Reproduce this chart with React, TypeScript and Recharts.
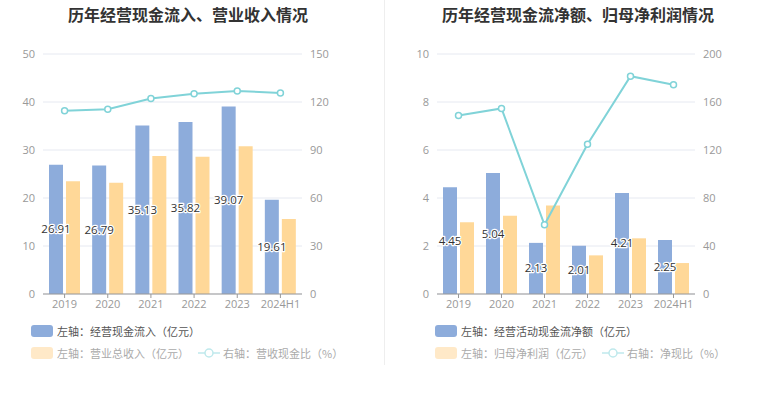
import { Bar, CartesianGrid, ComposedChart, LabelList, Line, XAxis, YAxis } from "recharts";

const years = ["2019", "2020", "2021", "2022", "2023", "2024H1"];

// left chart
const cashInflow = [26.91, 26.79, 35.13, 35.82, 39.07, 19.61];
const revenue = [23.5, 23.2, 28.75, 28.6, 30.8, 15.6];
const cashRevenueRatio = [114.5, 115.5, 122.2, 125.2, 126.9, 125.7];
const leftTicksA = [0, 10, 20, 30, 40, 50];
const rightTicksA = [0, 30, 60, 90, 120, 150];

// right chart
const netCashFlow = [4.45, 5.04, 2.13, 2.01, 4.21, 2.25];
const netProfit = [2.99, 3.26, 3.69, 1.61, 2.32, 1.29];
const netCashRatio = [148.8, 154.6, 57.7, 124.8, 181.5, 174.4];
const leftTicksB = [0, 2, 4, 6, 8, 10];
const rightTicksB = [0, 40, 80, 120, 160, 200];

const BLUE = "#8dacdb";
const YELLOW = "#ffd898";
const TEAL = "#80d3d8";
const NUM_FONT = "'Open Sans', 'Noto Sans CJK SC', sans-serif";
const CJK_FONT = "'Noto Sans CJK SC', sans-serif";

const dataA = years.map((y, i) => ({ year: y, bar: cashInflow[i], bar2: revenue[i], ratio: cashRevenueRatio[i] }));
const dataB = years.map((y, i) => ({ year: y, bar: netCashFlow[i], bar2: netProfit[i], ratio: netCashRatio[i] }));

const renderLabel = (props: any) => {
  const { x, y, width, height, value } = props;
  return (
    <text
      x={x + width / 2}
      y={y + height / 2}
      dy={4}
      textAnchor="middle"
      fontSize={11.5}
      fontFamily={NUM_FONT}
      fill="#333"
      stroke="#fff"
      strokeWidth={2.5}
      strokeLinejoin="round"
      style={{ paintOrder: "stroke" }}
    >
      {value}
    </text>
  );
};

const tickStyle = { fill: "#999", fontSize: 11, fontFamily: NUM_FONT };

type ChartProps = {
  data: any[];
  leftTicks: number[];
  rightTicks: number[];
  width: number;
  leftW: number;
  rightW: number;
  marginRight: number;
};

const DualChart = ({ data, leftTicks, rightTicks, width, leftW, rightW, marginRight }: ChartProps) => (
  <ComposedChart
    width={width}
    height={393}
    data={data}
    margin={{ top: 54, right: marginRight, bottom: 79, left: 0 }}
    barSize={14}
    barGap={3}
  >
    <CartesianGrid yAxisId="left" vertical={false} stroke="#e6e9f1" />
    <XAxis
      dataKey="year"
      height={20}
      tick={tickStyle}
      tickSize={4}
      tickMargin={2}
      axisLine={{ stroke: "#999" }}
      tickLine={{ stroke: "#999" }}
      interval={0}
    />
    <YAxis
      yAxisId="left"
      width={leftW}
      domain={[leftTicks[0], leftTicks[leftTicks.length - 1]]}
      ticks={leftTicks}
      tick={tickStyle}
      tickSize={0}
      tickMargin={8}
      axisLine={false}
      tickLine={false}
    />
    <YAxis
      yAxisId="right"
      orientation="right"
      width={rightW}
      domain={[rightTicks[0], rightTicks[rightTicks.length - 1]]}
      ticks={rightTicks}
      tick={tickStyle}
      tickSize={0}
      tickMargin={8}
      axisLine={false}
      tickLine={false}
    />
    <Bar yAxisId="left" dataKey="bar" fill={BLUE} isAnimationActive={false}>
      <LabelList dataKey="bar" content={renderLabel} />
    </Bar>
    <Bar yAxisId="left" dataKey="bar2" fill={YELLOW} isAnimationActive={false} />
    <Line
      yAxisId="right"
      dataKey="ratio"
      stroke={TEAL}
      strokeWidth={2}
      dot={{ r: 3, fill: "#fff", stroke: TEAL, strokeWidth: 1.5 }}
      isAnimationActive={false}
    />
  </ComposedChart>
);

const Swatch = ({ color }: { color: string }) => (
  <span style={{ display: "inline-block", width: 22, height: 12, borderRadius: 3, background: color, marginRight: 4 }} />
);

const LineIcon = () => (
  <svg width={22} height={12} style={{ marginRight: 3 }}>
    <line x1={0} y1={6} x2={22} y2={6} stroke="#bfe9ec" strokeWidth={1.5} />
    <circle cx={11} cy={6} r={4} fill="#fff" stroke="#bfe9ec" strokeWidth={1.5} />
  </svg>
);

const rowStyle = (left: number, top: number): React.CSSProperties => ({
  position: "absolute",
  left,
  top,
  display: "flex",
  alignItems: "center",
  fontSize: 11,
  fontFamily: CJK_FONT,
  whiteSpace: "nowrap",
  height: 14,
});

const Legend = ({ left, first, second, third }: { left: number; first: string; second: string; third: string }) => (
  <>
    <div style={{ ...rowStyle(left, 324), color: "#555" }}>
      <Swatch color={BLUE} />
      {first}
    </div>
    <div style={{ ...rowStyle(left, 346), color: "#aaa" }}>
      <Swatch color="#ffe9c8" />
      {second}
      <span style={{ width: 9 }} />
      <LineIcon />
      {third}
    </div>
  </>
);

const titleStyle = (center: number): React.CSSProperties => ({
  position: "absolute",
  left: center - 150,
  width: 300,
  top: 4,
  textAlign: "center",
  fontSize: 16,
  fontWeight: "bold",
  color: "#333",
  fontFamily: CJK_FONT,
  lineHeight: "20px",
});

export default function App() {
  return (
    <div style={{ position: "absolute", left: 0, top: 0, width: 765, height: 393, background: "#fff", overflow: "hidden" }}>
      <div style={titleStyle(188)}>历年经营现金流入、营业收入情况</div>
      <div style={titleStyle(578)}>历年经营现金流净额、归母净利润情况</div>
      <div style={{ position: "absolute", left: 0, top: 0 }}>
        <DualChart data={dataA} leftTicks={leftTicksA} rightTicks={rightTicksA} width={383} leftW={43} rightW={40} marginRight={41} />
      </div>
      <div style={{ position: "absolute", left: 383, top: 0 }}>
        <DualChart data={dataB} leftTicks={leftTicksB} rightTicks={rightTicksB} width={382} leftW={54} rightW={40} marginRight={30} />
      </div>
      <div style={{ position: "absolute", left: 384, top: 0, width: 1, height: 365, background: "#eee" }} />
      <Legend left={31} first="左轴：经营现金流入（亿元）" second="左轴：营业总收入（亿元）" third="右轴：营收现金比（%）" />
      <Legend left={435} first="左轴：经营活动现金流净额（亿元）" second="左轴：归母净利润（亿元）" third="右轴：净现比（%）" />
    </div>
  );
}
